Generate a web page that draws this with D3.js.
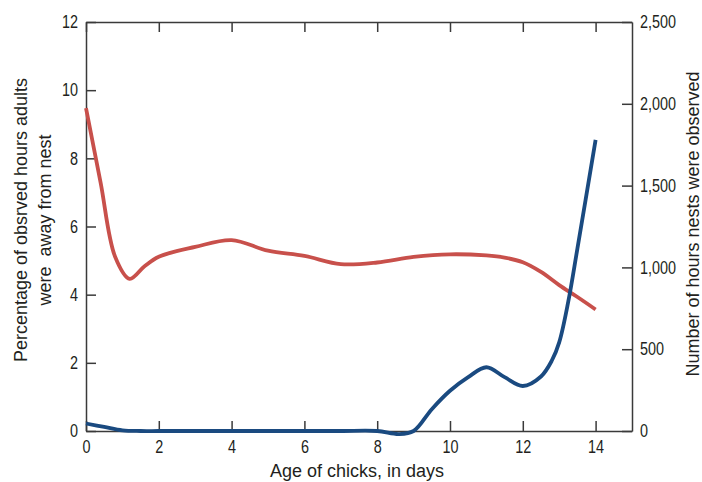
<!DOCTYPE html>
<html>
<head>
<meta charset="utf-8">
<script src="https://cdn.jsdelivr.net/npm/d3@7"></script>
<style>
  html, body { margin: 0; padding: 0; background: #fff; }
  svg text { font-family: "Liberation Sans", Arial, sans-serif; fill: #231f20; }
</style>
</head>
<body>
<svg id="chart" width="702" height="482"></svg>
<script>
// Percentage of observed hours adults were away from the nest (left axis)
const awayDays = [0, 0.5, 1, 1.5, 2, 3, 4, 5, 6, 7, 8, 8.6, 9, 9.5, 10, 10.5, 11, 11.5, 12, 12.5, 12.8, 13, 13.25, 13.5, 14];
const awayPct  = [0.22, 0.12, 0.02, 0, 0, 0, 0, 0, 0, 0, 0, -0.09, 0, 0.64, 1.18, 1.58, 1.87, 1.58, 1.32, 1.6, 2.07, 2.6, 3.8, 5.35, 8.54];

// Number of hours nests were observed (right axis)
const obsDays  = [0, 0.4, 0.8, 1.2, 1.6, 2, 3, 4, 5, 6, 7, 8, 9, 10, 11, 11.5, 12, 12.5, 13, 13.5, 14];
const obsHours = [1974, 1520, 1065, 930, 1005, 1065, 1125, 1167, 1102, 1070, 1020, 1030, 1064, 1080, 1073, 1060, 1031, 972, 892, 819, 743];

// Axis ticks
const xTicks = [0, 2, 4, 6, 8, 10, 12, 14];
const leftTicks = [0, 2, 4, 6, 8, 10, 12];
const rightTicks = [0, 500, 1000, 1500, 2000, 2500];

const svg = d3.select("#chart");
const plotLeft = 86, plotRight = 632, plotTop = 22, plotBottom = 431;

const x = d3.scaleLinear().domain([0, 15]).range([plotLeft, plotRight]);
const yL = d3.scaleLinear().domain([0, 12]).range([plotBottom, plotTop]);
const yR = d3.scaleLinear().domain([0, 2500]).range([plotBottom, plotTop]);

const axisColor = "#3a3a3a";
const tickFontSize = 18;

function styleAxis(g) {
  g.selectAll("path.domain").attr("stroke", axisColor).attr("stroke-width", 1.5);
  g.selectAll(".tick line").attr("stroke", axisColor).attr("stroke-width", 1.5);
  g.selectAll(".tick text").attr("font-size", tickFontSize).attr("fill", "#231f20").classed("narrow", true);
}

// Bottom axis: inward ticks, labels below
svg.append("g")
  .attr("transform", `translate(0,${plotBottom})`)
  .call(d3.axisBottom(x).tickValues(xTicks).tickSizeInner(-10).tickSizeOuter(0).tickPadding(9).tickFormat(d3.format("d")))
  .call(styleAxis);

// Top axis: inward ticks, no labels
svg.append("g")
  .attr("transform", `translate(0,${plotTop})`)
  .call(d3.axisTop(x).tickValues(xTicks).tickSizeInner(-10).tickSizeOuter(0).tickFormat(""))
  .call(styleAxis);

// Left axis (percentage)
svg.append("g")
  .attr("transform", `translate(${plotLeft},0)`)
  .call(d3.axisLeft(yL).tickValues(leftTicks).tickSizeInner(-10).tickSizeOuter(0).tickPadding(8).tickFormat(d3.format("d")))
  .call(styleAxis);

// Right axis (hours)
svg.append("g")
  .attr("transform", `translate(${plotRight},0)`)
  .call(d3.axisRight(yR).tickValues(rightTicks).tickSizeInner(-10).tickSizeOuter(0).tickPadding(8).tickFormat(d3.format(",")))
  .call(styleAxis);

// Series lines
const curve = d3.curveCatmullRom.alpha(0.5);

const obsLine = d3.line()
  .x((d, i) => x(obsDays[i]))
  .y(d => yR(d))
  .curve(curve);

const awayLine = d3.line()
  .x((d, i) => x(awayDays[i]))
  .y(d => yL(d))
  .curve(curve);

svg.append("path")
  .datum(obsHours)
  .attr("d", obsLine)
  .attr("fill", "none")
  .attr("stroke", "#c8504b")
  .attr("stroke-width", 3.8);

svg.append("path")
  .datum(awayPct)
  .attr("d", awayLine)
  .attr("fill", "none")
  .attr("stroke", "#1a4a80")
  .attr("stroke-width", 3.8);

// Axis titles
svg.append("text")
  .attr("x", (x(0) + x(15)) / 2 - 2)
  .attr("y", 477)
  .attr("text-anchor", "middle")
  .attr("font-size", 18)
  .text("Age of chicks, in days");

const leftTitle = svg.append("text")
  .attr("transform", "translate(27,220) rotate(-90)")
  .attr("text-anchor", "middle")
  .attr("font-size", 18)
  .style("white-space", "pre");
leftTitle.append("tspan").attr("x", 0).attr("dy", 0).text("Percentage of obsrved hours adults");
leftTitle.append("tspan").attr("x", 0).attr("dy", 24).text("were  away from nest");

svg.append("text")
  .attr("transform", "translate(699,224) rotate(-90)")
  .attr("text-anchor", "middle")
  .attr("font-size", 18)
  .text("Number of hours nests were observed");

// Condensed digits for the tick labels
svg.selectAll("text.narrow").each(function () {
  const w = this.getComputedTextLength();
  d3.select(this).attr("textLength", w * 0.8).attr("lengthAdjust", "spacingAndGlyphs");
});
</script>
</body>
</html>
